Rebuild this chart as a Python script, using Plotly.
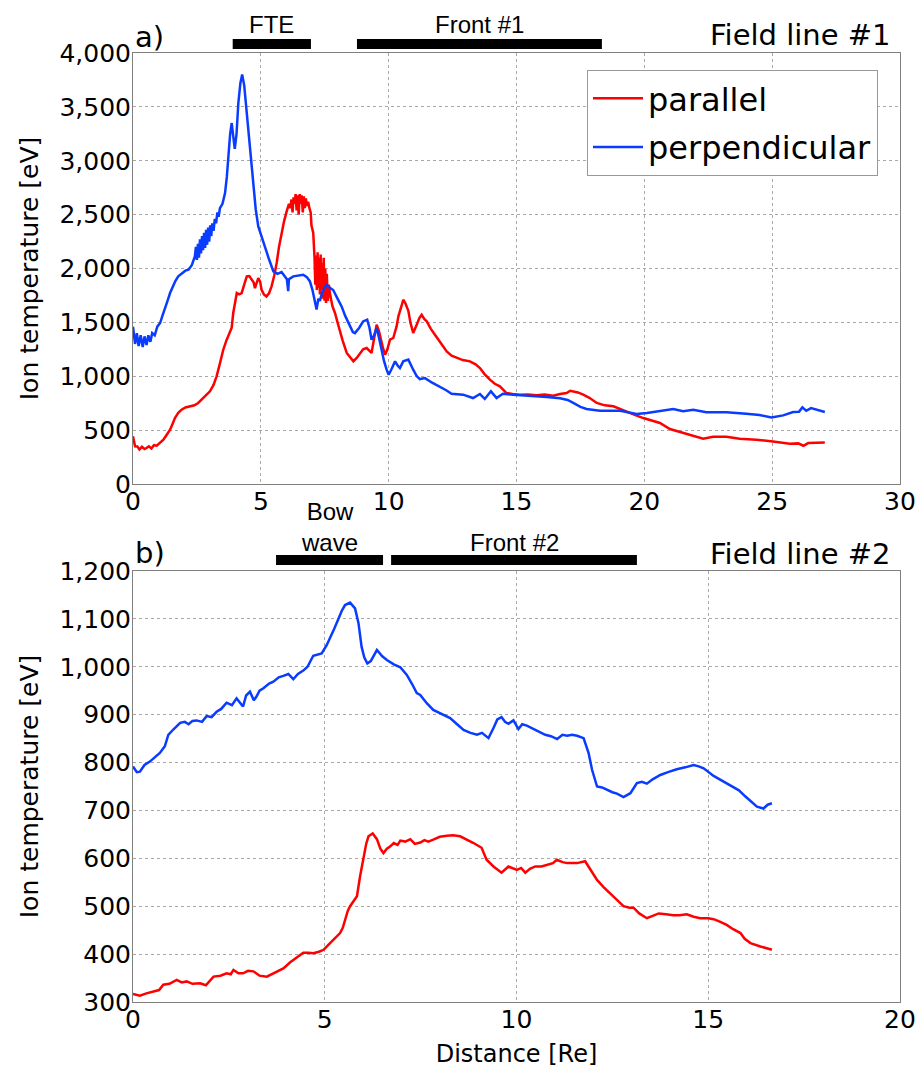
import plotly.graph_objects as go

# ---------------- data: Field line #1 ----------------
x1_perp = [0.0, 0.08, 0.15, 0.22, 0.3, 0.38, 0.45, 0.53, 0.6, 0.68, 0.75, 0.85, 0.95, 1.06, 1.15, 1.25, 1.35,
           1.45, 1.55, 1.65, 1.77, 1.9, 2.05, 2.17, 2.3, 2.42, 2.46, 2.5, 2.54, 2.58, 2.62, 2.66, 2.7, 2.74, 2.78,
           2.82, 2.86, 2.9, 2.94, 2.98, 3.02, 3.06, 3.1, 3.15, 3.2, 3.25, 3.3, 3.35, 3.4, 3.5, 3.6, 3.67, 3.73,
           3.8, 3.86, 3.92, 3.98, 4.05, 4.12, 4.2,
           4.27, 4.35, 4.44, 4.5, 4.58, 4.71, 4.8, 4.9, 5.1, 5.3, 5.49, 5.65, 5.81, 5.95, 6.02, 6.07, 6.1, 6.27,
           6.45, 6.66, 6.8, 6.92, 7.02, 7.12, 7.18, 7.25, 7.31, 7.4, 7.5, 7.57, 7.7, 7.83, 8.0, 8.16, 8.3, 8.49,
           8.6, 8.68, 8.85, 9.0, 9.16, 9.25, 9.33, 9.43, 9.53, 9.62, 9.72, 9.82, 9.92, 10.0, 10.1, 10.25, 10.35,
           10.44, 10.57, 10.77, 10.96, 11.1, 11.22, 11.42, 11.7, 12.0, 12.25, 12.46, 12.91, 13.3, 13.57, 13.76,
           14.0, 14.22, 14.47, 14.87, 15.53, 16.18, 16.7, 17.0, 17.22, 17.5, 17.74, 18.26, 19.05, 19.7, 20.1,
           20.48, 21.13, 21.52, 21.91, 22.43, 23.21, 23.99, 24.51, 24.97, 25.43, 25.82, 26.05, 26.18, 26.33,
           26.52, 26.8, 27.06]
t1_perp = [1460, 1300, 1400, 1280, 1380, 1270, 1370, 1290, 1380, 1320, 1400, 1380, 1460, 1494, 1560, 1640, 1700,
           1772, 1830, 1880, 1927, 1950, 1980, 1989, 2030, 2112, 2200, 2080, 2230, 2100, 2270, 2140, 2300, 2170, 2330,
           2190, 2360, 2220, 2380, 2250, 2400, 2300, 2420, 2350, 2460, 2420, 2520, 2480, 2560, 2600, 2700, 2850, 3040,
           3250, 3350, 3200, 3110, 3250, 3536, 3720,
           3800, 3700, 3474, 3350, 3133, 2762, 2550, 2391, 2237, 2100, 1973, 1950, 1967, 1920, 1900, 1790, 1900, 1927,
           1935, 1942, 1920, 1880, 1800, 1680, 1620, 1720, 1700, 1780, 1830, 1850, 1820, 1800, 1720, 1648, 1560, 1463,
           1410, 1400, 1450, 1509, 1525, 1450, 1339, 1380, 1448, 1360, 1246, 1140, 1061, 1014, 1060, 1138, 1100,
           1076, 1138, 1154, 1061, 1000, 974, 983, 940, 906, 870, 838, 829, 798, 835, 789,
           860, 798, 838, 829, 820, 807, 795, 780, 752, 715, 696, 680, 680, 650, 660,
           675, 696, 675, 688, 665, 665, 653, 640, 618, 637, 668, 671, 711, 680,
           705, 686, 668]

x1_par = [0.0, 0.08, 0.17, 0.25, 0.35, 0.45, 0.53, 0.62, 0.72, 0.82, 0.93, 1.05, 1.19, 1.3, 1.45, 1.55, 1.64, 1.77,
          1.9, 2.05, 2.23, 2.4, 2.55, 2.75, 2.9, 3.01, 3.15, 3.27, 3.4, 3.53, 3.65, 3.79, 3.86, 3.92, 4.0, 4.06, 4.15,
          4.25, 4.35, 4.45, 4.55, 4.64, 4.72, 4.77, 4.85, 4.9, 4.97, 5.03, 5.12, 5.22, 5.32, 5.42, 5.52, 5.62, 5.71,
          5.81, 5.91, 6.01, 6.1, 6.15, 6.2, 6.24, 6.28, 6.32, 6.36, 6.4, 6.44, 6.48, 6.52, 6.56, 6.6, 6.64, 6.68,
          6.72, 6.76, 6.8, 6.85, 6.9, 6.95, 6.98, 7.05, 7.1, 7.13, 7.16, 7.19, 7.22, 7.25, 7.28, 7.31, 7.34, 7.37,
          7.4, 7.43, 7.46, 7.49, 7.52, 7.55, 7.58, 7.62, 7.66, 7.7, 7.8, 7.9, 8.0, 8.1, 8.2,
          8.36, 8.5, 8.62, 8.75, 8.88, 9.0, 9.14, 9.25, 9.33, 9.43, 9.53, 9.62, 9.69, 9.78, 9.86, 9.95, 10.05,
          10.18, 10.31, 10.38, 10.5, 10.57, 10.65, 10.77, 10.85, 10.96, 11.1, 11.2, 11.29, 11.4, 11.49, 11.65,
          11.81, 12.05, 12.27, 12.46, 12.66, 12.9, 13.18, 13.4, 13.57, 13.75, 13.96, 14.15, 14.35, 14.48, 14.61,
          14.85, 15.13, 15.45, 15.78, 16.1, 16.44, 16.7, 16.96, 17.1, 17.22, 17.4, 17.61, 17.85, 18.14, 18.45,
          18.79, 19.05, 19.31, 19.65, 19.96, 20.3, 20.61, 21.0, 21.33, 21.6, 21.91, 22.3, 22.69, 23.21, 23.73,
          24.38, 25.03, 25.69, 26.02, 26.22, 26.41, 26.8, 27.06]
t1_par = [442, 350, 349, 320, 345, 325, 334, 350, 330, 360, 355, 380, 411, 450, 504, 560, 612, 660,
          690, 710, 720, 730, 752, 800, 830, 860, 920, 999, 1120, 1246, 1330, 1401, 1450, 1587, 1700, 1772, 1760,
          1772, 1850, 1927, 1930, 1896, 1870, 1818, 1870, 1911, 1880, 1803, 1760, 1741, 1770, 1834, 1930, 2051, 2200,
          2329, 2440, 2530, 2600, 2560, 2640, 2520, 2660, 2600, 2690, 2540, 2680, 2500, 2690, 2600, 2680, 2520, 2670,
          2560, 2650, 2580, 2620, 2560, 2520, 2400, 2329, 2100, 1850, 2120, 1800, 2150, 1820, 2100, 1760, 2130, 1800,
          2050, 1720, 2100, 1700, 2000, 1680, 1950, 1700, 1850, 1772, 1650, 1587, 1500, 1401, 1330,
          1216, 1170, 1138, 1170, 1216, 1250, 1262, 1230, 1216, 1350, 1478, 1420, 1339, 1260, 1200, 1250, 1339,
          1355, 1463, 1556, 1650, 1710, 1680, 1608, 1500, 1401, 1480, 1540, 1571, 1530, 1510, 1440,
          1385, 1300, 1231, 1190, 1169, 1150, 1138, 1110, 1076, 1020, 968, 930, 906, 870, 844,
          835, 829, 830, 823, 830, 820, 835, 844, 865, 860, 850, 829, 800, 752, 730,
          721, 695, 668, 640, 612, 585, 566, 510, 488, 470, 448, 420, 439, 439, 420,
          411, 395, 374, 377, 355, 380, 382, 386]

# ---------------- data: Field line #2 ----------------
x2_perp = [0.0, 0.1, 0.18, 0.3, 0.44, 0.55, 0.7, 0.83, 0.92, 1.05, 1.23, 1.35, 1.45, 1.55, 1.66, 1.8, 1.92, 2.05,
           2.18, 2.3, 2.44, 2.58, 2.7, 2.87, 2.95, 3.05, 3.15, 3.22, 3.3, 3.4, 3.55, 3.66, 3.8, 3.92, 4.05, 4.18,
           4.3, 4.44, 4.55, 4.7, 4.82, 4.92, 5.05, 5.14, 5.25, 5.36, 5.45, 5.53, 5.66, 5.79, 5.88, 5.96, 6.03,
           6.11, 6.2, 6.36, 6.5, 6.62, 6.8, 6.97, 7.14, 7.27, 7.4, 7.49, 7.66, 7.83, 8.05, 8.27, 8.45, 8.62, 8.8,
           8.97, 9.1, 9.27, 9.4, 9.5, 9.61, 9.7, 9.79, 9.92, 10.05, 10.15, 10.27, 10.4, 10.53, 10.65, 10.75, 10.9,
           11.06, 11.2, 11.32, 11.45, 11.58, 11.75, 11.88, 11.97, 12.1, 12.23, 12.36, 12.5, 12.62, 12.79, 12.97,
           13.14, 13.27, 13.4, 13.55, 13.75, 13.95, 14.18, 14.4, 14.62, 14.75, 14.88, 15.14, 15.35, 15.58, 15.8,
           15.97, 16.12, 16.27, 16.44, 16.55, 16.66]
t2_perp = [792, 780, 781, 795, 802, 810, 820, 834, 858, 869, 883, 885, 880, 887, 888, 885, 897, 895,
           906, 912, 925, 920, 934, 917, 940, 948, 930, 938, 950, 955, 965, 969, 978, 981, 985, 974,
           985, 992, 1000, 1023, 1025, 1028, 1045, 1060, 1080, 1101, 1118, 1129, 1134, 1122, 1091, 1042, 1020,
           1007, 1012, 1035, 1022, 1014, 1005, 999, 983, 965, 945, 941, 924, 910, 902, 893, 880, 868, 862,
           858, 862, 851, 872, 890, 895, 885, 881, 888, 870, 880, 877, 872, 868, 862, 858, 855,
           849, 858, 856, 858, 856, 851, 820, 785, 750, 748, 743, 738, 735, 728, 736,
           757, 760, 756, 765, 774, 780, 786, 790, 795, 792, 788, 772, 763, 753, 742,
           729, 718, 708, 704, 712, 715]

x2_par = [0.0, 0.18, 0.35, 0.53, 0.68, 0.79, 0.95, 1.14, 1.27, 1.4, 1.55, 1.75, 1.9, 2.1, 2.28, 2.44, 2.55, 2.62,
          2.75, 2.87, 3.0, 3.14, 3.3, 3.49, 3.62, 3.75, 3.92, 4.1, 4.27, 4.44, 4.57, 4.7, 4.85, 4.97, 5.1, 5.22,
          5.3, 5.4, 5.47, 5.53, 5.6, 5.66, 5.75, 5.84, 5.92, 6.01, 6.08, 6.14, 6.25, 6.36, 6.45, 6.53, 6.62, 6.71,
          6.8, 6.9, 6.97, 7.1, 7.23, 7.35, 7.49, 7.6, 7.7, 7.83, 8.0, 8.18, 8.35, 8.53, 8.7, 8.88, 9.09, 9.22,
          9.4, 9.61, 9.79, 10.01, 10.12, 10.23, 10.35, 10.49, 10.65, 10.79, 10.95, 11.05, 11.2, 11.32, 11.58,
          11.79, 11.95, 12.1, 12.27, 12.44, 12.6, 12.79, 12.95, 13.05, 13.2, 13.4, 13.55, 13.71, 13.9, 14.09,
          14.25, 14.44, 14.62, 14.79, 15.0, 15.14, 15.3, 15.48, 15.65, 15.84, 15.95, 16.1, 16.36, 16.66]
t2_par = [317, 313, 318, 322, 325, 336, 338, 346, 341, 343, 338, 339, 335, 353, 355, 360, 358, 367,
          360, 360, 365, 364, 355, 353, 358, 362, 370, 383, 393, 403, 403, 402, 405, 409, 420, 430,
          435, 444, 455, 472, 490, 500, 510, 521, 562, 604, 630, 646, 652, 640, 620, 611, 620, 625,
          632, 628, 637, 635, 640, 630, 633, 638, 635, 639, 645, 647, 648, 646, 640, 632, 622, 597,
          583, 570, 583, 576, 580, 570, 578, 583, 583, 587, 590, 597, 592, 590, 590,
          594, 575, 555, 540, 527, 513, 500, 497, 497, 485, 475, 480, 485, 483, 481,
          481, 483, 478, 475, 475, 473, 468, 461, 452, 444, 432, 423, 416, 409]

# ---------------- event bars (start, end in Re) ----------------
bar1_labels = ["FTE", "Front #1"]
bar1_start = [3.9, 8.76]
bar1_end = [6.96, 18.34]
bar2_labels = ["Bow<br>wave", "Front #2"]
bar2_start = [3.73, 6.73]
bar2_end = [6.52, 13.14]

RED = "#ff0000"
BLUE = "#0a3cff"
DJ = "DejaVu Sans"
LIB = "Liberation Sans"

fig = go.Figure()
fig.add_trace(go.Scatter(x=x1_par, y=t1_par, mode="lines", name="parallel",
                         line=dict(color=RED, width=2.5), xaxis="x", yaxis="y", legendgroup="a"))
fig.add_trace(go.Scatter(x=x1_perp, y=t1_perp, mode="lines", name="perpendicular",
                         line=dict(color=BLUE, width=2.5), xaxis="x", yaxis="y", legendgroup="b"))
fig.add_trace(go.Scatter(x=x2_perp, y=t2_perp, mode="lines", name="perpendicular", showlegend=False,
                         line=dict(color=BLUE, width=2.5), xaxis="x2", yaxis="y2"))
fig.add_trace(go.Scatter(x=x2_par, y=t2_par, mode="lines", name="parallel", showlegend=False,
                         line=dict(color=RED, width=2.5), xaxis="x2", yaxis="y2"))

axis_common = dict(showline=True, linecolor="#808080", linewidth=1, mirror=True,
                   showgrid=True, gridcolor="#a8a8a8", griddash="dot", gridwidth=1,
                   zeroline=False, ticks="", automargin=False,
                   tickfont=dict(family=DJ, size=25, color="black"))
xax = dict(axis_common, ticklabelstandoff=-5)
yax = dict(axis_common, ticklabelstandoff=-4)

top_dom = [518 / 949, 1.0]
bot_dom = [0.0, 431 / 949]

fig.update_layout(
    width=918, height=1068,
    margin=dict(l=133, r=18, t=53, b=66, autoexpand=False),
    paper_bgcolor="white", plot_bgcolor="white",
    separators=".,",
    font=dict(family=DJ, color="black"),
    xaxis=dict(xax, domain=[0, 1], range=[0, 30], dtick=5, anchor="y"),
    yaxis=dict(yax, domain=top_dom, range=[0, 4000], dtick=500, tickformat=",d", anchor="x",
               title=dict(text="Ion temperature [eV]", font=dict(family=DJ, size=25), standoff=13)),
    xaxis2=dict(xax, domain=[0, 1], range=[0, 20], dtick=5, anchor="y2",
                title=dict(text="Distance [Re]", font=dict(family=DJ, size=24), standoff=12)),
    yaxis2=dict(yax, domain=bot_dom, range=[300, 1200], dtick=100, tickformat=",d", anchor="x2",
                title=dict(text="Ion temperature [eV]", font=dict(family=DJ, size=25), standoff=13)),
    legend=dict(x=(878 - 133) / 767, xanchor="right", y=(1002 - 70) / 949, yanchor="top",
                bgcolor="white", bordercolor="#999999", borderwidth=1,
                font=dict(family=DJ, size=32), itemwidth=50, tracegroupgap=4),
    showlegend=True,
)

shapes = []
annotations = []
for lab, s, e in zip(bar1_labels, bar1_start, bar1_end):
    shapes.append(dict(type="rect", xref="x", yref="y domain", x0=s, x1=e, y0=1.0093, y1=1.0325,
                       fillcolor="black", line=dict(width=0)))
    annotations.append(dict(text=lab, xref="x", yref="y domain", x=(s + e) / 2, y=1.067,
                            showarrow=False, font=dict(family=LIB, size=24, color="black"),
                            xanchor="center", yanchor="middle"))
for lab, s, e in zip(bar2_labels, bar2_start, bar2_end):
    shapes.append(dict(type="rect", xref="x2", yref="y2 domain", x0=s, x1=e, y0=1.0139, y1=1.0371,
                       fillcolor="black", line=dict(width=0)))
    annotations.append(dict(text=lab, xref="x2", yref="y2 domain", x=(s + e) / 2,
                            y=1.031, showarrow=False,
                            font=dict(family=LIB, size=24, color="black"),
                            xanchor="center", yanchor="bottom"))

annotations += [
    dict(text="a)", xref="x domain", yref="y domain", x=0, y=1.037, xanchor="left", yanchor="middle",
         showarrow=False, font=dict(family=DJ, size=29)),
    dict(text="Field line #1", xref="x domain", yref="y domain", x=0.99, y=1.042, xanchor="right",
         yanchor="middle", showarrow=False, font=dict(family=DJ, size=29)),
    dict(text="b)", xref="x2 domain", yref="y2 domain", x=0, y=1.042, xanchor="left", yanchor="middle",
         showarrow=False, font=dict(family=DJ, size=29)),
    dict(text="Field line #2", xref="x2 domain", yref="y2 domain", x=0.99, y=1.04, xanchor="right",
         yanchor="middle", showarrow=False, font=dict(family=DJ, size=29)),
]
fig.update_layout(shapes=shapes, annotations=annotations)

fig.write_html("out.html")
